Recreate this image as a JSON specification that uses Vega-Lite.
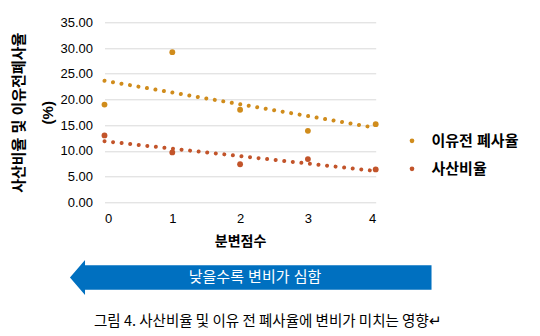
{
  "$schema": "https://vega.github.io/schema/vega-lite/v6.json",
  "width": 271.2,
  "height": 180,
  "autosize": {"type": "none"},
  "padding": {"left": 104.5, "top": 22.3, "right": 164.3, "bottom": 133.7},
  "background": "white",
  "config": {
    "font": "Liberation Sans, Noto Sans CJK KR",
    "view": {"stroke": null}
  },
  "datasets": {
    "points": [
      {"score": 0, "series": "이유전 폐사율", "value": 19.0},
      {"score": 1, "series": "이유전 폐사율", "value": 29.2},
      {"score": 2, "series": "이유전 폐사율", "value": 18.0},
      {"score": 3, "series": "이유전 폐사율", "value": 13.9},
      {"score": 4, "series": "이유전 폐사율", "value": 15.2},
      {"score": 0, "series": "사산비율", "value": 13.0},
      {"score": 1, "series": "사산비율", "value": 9.7},
      {"score": 2, "series": "사산비율", "value": 7.4},
      {"score": 3, "series": "사산비율", "value": 8.4},
      {"score": 4, "series": "사산비율", "value": 6.4}
    ],
    "notes": [
      {"kind": "arrow", "x": 2.157, "y": -14.62, "text": ""},
      {"kind": "banner", "x": 2.22, "y": -14.55, "text": "낮을수록 변비가 심함"},
      {"kind": "caption", "x": 2.41, "y": -23.27, "text": "그림 4. 사산비율 및 이유 전 폐사율에 변비가 미치는 영향↵"}
    ]
  },
  "encoding": {
    "x": {
      "field": "score", "type": "quantitative",
      "scale": {"domain": [0, 4], "nice": false},
      "axis": {
        "values": [0, 1, 2, 3, 4], "format": "d", "grid": false, "domain": false, "ticks": false, "labelOverlap": false,
        "labelFontSize": 13, "labelColor": "#000", "labelPadding": 10,
        "title": "분변점수", "titleFontSize": 14, "titleFontWeight": "bold", "titleColor": "#000", "titlePadding": 9
      }
    },
    "y": {
      "field": "value", "type": "quantitative",
      "scale": {"domain": [0, 35], "nice": false},
      "axis": {
        "values": [0, 5, 10, 15, 20, 25, 30, 35], "format": ".2f", "grid": true, "gridColor": "#D9D9D9", "gridWidth": 1,
        "domain": false, "ticks": false, "labelOverlap": false, "labelFontSize": 13, "labelColor": "#000", "labelPadding": 12,
        "title": ["사산비율 및 이유전폐사율", "(%)"], "titleFontSize": 15, "titleFontWeight": "bold", "titleColor": "#000",
        "titleLineHeight": 29, "titleBaseline": "top", "titleAlign": "center", "titleAngle": -90, "titleX": -93, "titleY": 90
      }
    }
  },
  "layer": [
    {
      "data": {"name": "points"},
      "mark": {"type": "point", "filled": true, "opacity": 1, "size": 34},
      "encoding": {
        "color": {
          "field": "series", "type": "nominal",
          "scale": {"domain": ["이유전 폐사율", "사산비율"], "range": ["#D08C1C", "#C2542A"]},
          "legend": {
            "title": null, "orient": "none", "legendX": 300, "legendY": 111,
            "symbolType": "circle", "symbolSize": 22, "symbolStrokeWidth": 0,
            "labelFontSize": 15, "labelFontWeight": "bold", "labelColor": "#000", "labelOffset": 12, "rowPadding": 12
          }
        }
      }
    },
    {
      "data": {"name": "points"},
      "transform": [
        {"regression": "value", "on": "score", "groupby": ["series"], "extent": [0, 4]}
      ],
      "mark": {"type": "line", "strokeWidth": 4, "strokeDash": [0.01, 8.6], "strokeCap": "round"},
      "encoding": {
        "stroke": {
          "field": "series", "type": "nominal",
          "scale": {"domain": ["이유전 폐사율", "사산비율"], "range": ["#D08C1C", "#C2542A"]},
          "legend": null
        }
      }
    },
    {
      "data": {"name": "notes"},
      "transform": [{"filter": "datum.kind === 'arrow'"}],
      "mark": {
        "type": "point", "filled": true, "opacity": 1, "color": "#0070C0", "size": 1225, "strokeWidth": 0,
        "shape": "M -10.33 0 L -9.47 -1 L -9.47 -0.7 L 10.33 -0.7 L 10.33 0.7 L -9.47 0.7 L -9.47 1 Z"
      },
      "encoding": {
        "x": {"field": "x", "type": "quantitative"},
        "y": {"field": "y", "type": "quantitative"}
      }
    },
    {
      "data": {"name": "notes"},
      "transform": [{"filter": "datum.kind === 'banner'"}],
      "mark": {"type": "text", "color": "white", "fontSize": 15, "align": "center", "baseline": "middle"},
      "encoding": {
        "x": {"field": "x", "type": "quantitative"},
        "y": {"field": "y", "type": "quantitative"},
        "text": {"field": "text"}
      }
    },
    {
      "data": {"name": "notes"},
      "transform": [{"filter": "datum.kind === 'caption'"}],
      "mark": {"type": "text", "color": "black", "fontSize": 14.5, "align": "center", "baseline": "middle", "font": "Noto Sans CJK KR"},
      "encoding": {
        "x": {"field": "x", "type": "quantitative"},
        "y": {"field": "y", "type": "quantitative"},
        "text": {"field": "text"}
      }
    }
  ]
}
